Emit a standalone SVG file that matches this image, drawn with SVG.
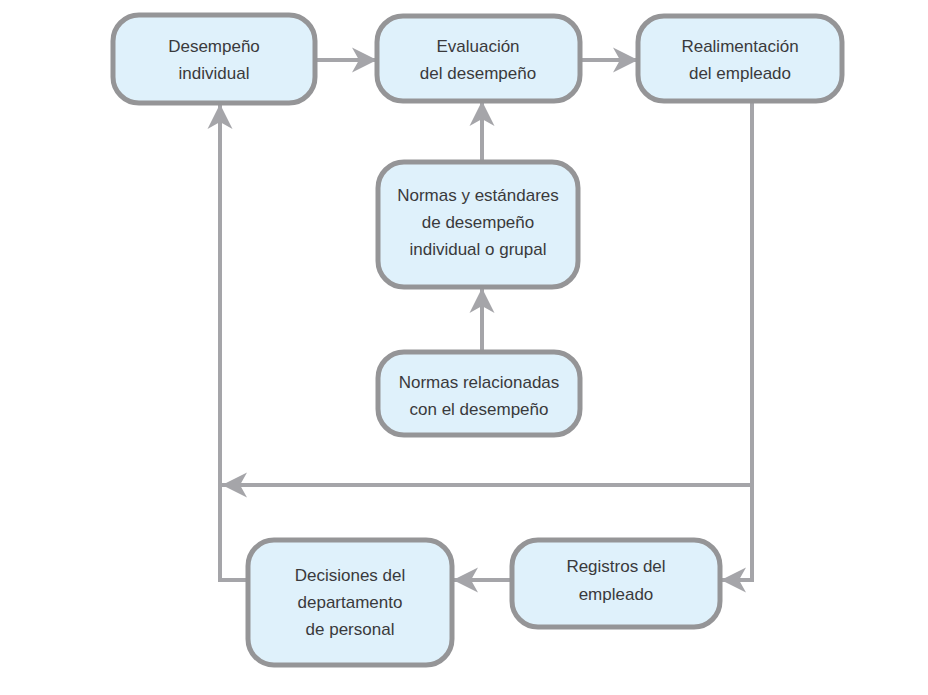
<svg xmlns="http://www.w3.org/2000/svg" width="928" height="695" viewBox="0 0 928 695">
<defs>
<style>
.box{fill:#dff1fb;stroke:#959597;stroke-width:5}
.lbl{font-family:"Liberation Sans",Arial,sans-serif;font-size:17px;fill:#3a3a3c;text-anchor:middle}
.con{fill:none;stroke:#a5a5a9;stroke-width:4}
</style>
<marker id="ah" viewBox="-27 -14 29 28" refX="0" refY="0" markerWidth="29" markerHeight="28" markerUnits="userSpaceOnUse" orient="auto">
<path d="M0,0 L-25,-12.5 L-18,0 L-25,12.5 Z" fill="#a5a5a9"/>
</marker>
</defs>
<rect width="928" height="695" fill="#ffffff"/>
<g id="connectors">
<path class="con" d="M315,60 H377" marker-end="url(#ah)"/>
<path class="con" d="M580,60 H638" marker-end="url(#ah)"/>
<path class="con" d="M482,162 V101" marker-end="url(#ah)"/>
<path class="con" d="M482,352 V288" marker-end="url(#ah)"/>
<path class="con" d="M752,101 V580 H721" marker-end="url(#ah)"/>
<path class="con" d="M752,485 H222" marker-end="url(#ah)"/>
<path class="con" d="M512,580 H453" marker-end="url(#ah)"/>
<path class="con" d="M248,580 H220 V104" marker-end="url(#ah)"/>
</g>
<g id="n1">
<rect class="box" x="113" y="15" width="202" height="88" rx="26"/>
<text class="lbl" x="214" y="52">Desempeño</text>
<text class="lbl" x="214" y="79">individual</text>
</g>
<g id="n2">
<rect class="box" x="377" y="16" width="203" height="85" rx="26"/>
<text class="lbl" x="478" y="52">Evaluación</text>
<text class="lbl" x="478" y="79">del desempeño</text>
</g>
<g id="n3">
<rect class="box" x="638" y="16" width="204" height="85" rx="26"/>
<text class="lbl" x="740" y="52">Realimentación</text>
<text class="lbl" x="740" y="79">del empleado</text>
</g>
<g id="n4">
<rect class="box" x="378" y="162" width="200" height="125" rx="26"/>
<text class="lbl" x="478" y="201">Normas y estándares</text>
<text class="lbl" x="478" y="228">de desempeño</text>
<text class="lbl" x="478" y="255">individual o grupal</text>
</g>
<g id="n5">
<rect class="box" x="378" y="352" width="202" height="83" rx="26"/>
<text class="lbl" x="479" y="388">Normas relacionadas</text>
<text class="lbl" x="479" y="415">con el desempeño</text>
</g>
<g id="n6">
<rect class="box" x="248" y="540" width="204" height="125" rx="26"/>
<text class="lbl" x="350" y="581">Decisiones del</text>
<text class="lbl" x="350" y="608">departamento</text>
<text class="lbl" x="350" y="635">de personal</text>
</g>
<g id="n7">
<rect class="box" x="512" y="540" width="208" height="87" rx="26"/>
<text class="lbl" x="616" y="572">Registros del</text>
<text class="lbl" x="616" y="600">empleado</text>
</g>
</svg>
